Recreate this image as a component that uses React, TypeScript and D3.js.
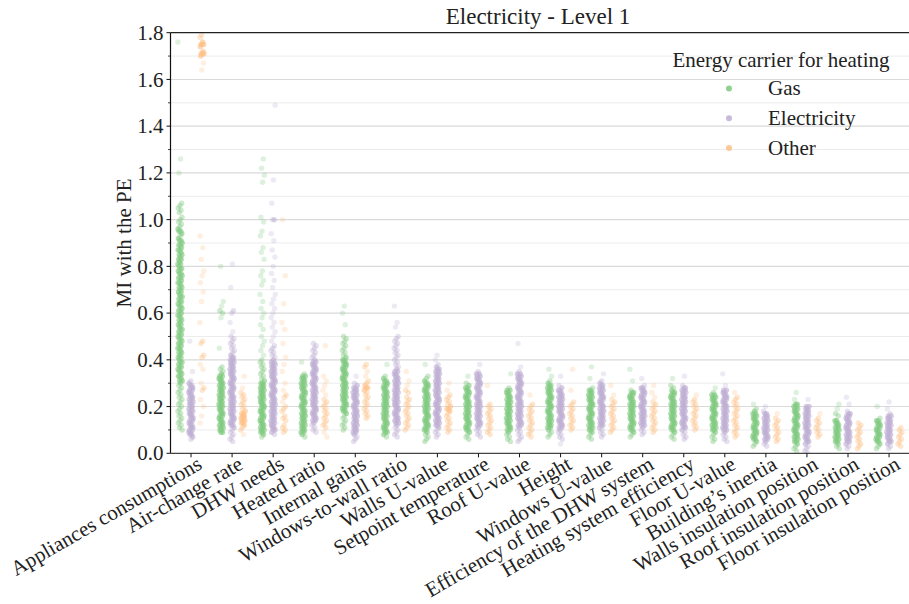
import React from "react";
import * as d3 from "d3";

const categories = [
  "Appliances consumptions", "Air-change rate", "DHW needs", "Heated ratio", "Internal gains",
  "Windows-to-wall ratio", "Walls U-value", "Setpoint temperature", "Roof U-value", "Height",
  "Windows U-value", "Efficiency of the DHW system", "Heating system efficiency", "Floor U-value",
  "Building\u2019s inertia", "Walls insulation position", "Roof insulation position", "Floor insulation position",
];
const hues = ["Gas", "Electricity", "Other"];
const hueColors = ["#7fc97f", "#beaed4", "#fdc086"];
const yTickValues = [0, 0.2, 0.4, 0.6, 0.8, 1.0, 1.2, 1.4, 1.6, 1.8];
const yMinorValues = [0.1, 0.3, 0.5, 0.7, 0.9, 1.1, 1.3, 1.5, 1.7];

// values in hundredths of MI, one string per category
const gasValues = [
  "176 126 120 107 106 105 104 103 101 100 99 98 97 96 95 95 94 93 92 91 91 90 89 89 88 87 87 86 85 85 84 83 83 82 81 81 80 79 79 78 77 77 76 75 75 74 73 73 72 71 71 70 69 69 68 67 67 66 65 65 64 63 63 62 61 61 60 59 59 58 57 57 56 55 55 54 53 53 52 51 51 50 49 49 48 47 47 46 45 45 44 43 43 42 41 41 40 39 39 38 37 37 36 35 35 34 33 33 32 31 31 30 29 28 27 26 25 24 23 22 21 20 19 18 17 16 15 14 13 12 11 10",
  "80 65 63 61 60 58 45 37 36 35 34 33 33 32 32 31 31 30 30 29 29 28 28 27 27 26 26 25 25 24 24 23 23 22 22 21 21 20 20 19 19 18 18 17 17 16 16 15 15 14 14 13 13 12 12 11 11 10 10 9 9",
  "126 122 119 116 101 99 95 93 88 86 83 78 76 74 72 68 65 62 60 58 55 53 50 48 46 44 42 40 39 38 37 36 35 34 33 32 31 30 30 29 29 28 28 27 27 26 26 25 25 24 24 23 23 22 22 21 21 20 20 19 19 18 18 17 17 16 16 15 15 14 14 13 13 12 12 11 11 10 10 9 9 8 7",
  "39 34 33 33 32 32 31 31 30 30 29 29 28 28 27 27 26 26 25 25 24 24 23 23 22 22 21 21 20 20 19 19 18 18 17 17 16 16 15 15 14 14 13 13 12 12 11 11 10 10 9 9 8 7",
  "63 60 55 50 49 48 47 46 45 44 43 42 41 40 40 39 39 38 38 37 37 36 36 35 35 34 34 33 33 32 32 31 31 30 30 29 29 28 28 27 27 26 26 25 25 24 24 23 23 22 22 21 21 20 20 19 19 18 18 17 16 15 14 13 12 11 10",
  "38 33 32 31 31 30 30 29 29 28 28 27 27 26 26 25 25 24 24 23 23 22 22 21 21 20 20 19 19 18 18 17 17 16 16 15 15 14 14 13 13 12 12 11 11 10 10 9 9 8 7",
  "38 33 32 31 30 30 29 29 28 28 27 27 26 26 25 25 24 24 23 23 22 22 21 21 20 20 19 19 18 18 17 17 16 16 15 15 14 14 13 13 12 12 11 11 10 10 9 8 7 6 5",
  "33 30 29 28 28 27 27 26 26 25 25 24 24 23 23 22 22 21 21 20 20 19 19 18 18 17 17 16 16 15 15 14 14 13 13 12 12 11 11 10 10 9 8 7 6",
  "34 28 27 27 26 26 25 25 24 24 23 23 22 22 21 21 20 20 19 19 18 18 17 17 16 16 15 15 14 14 13 13 12 12 11 11 10 10 9 8 7 6 5",
  "36 33 31 30 29 29 28 28 27 27 26 26 25 25 24 24 23 23 22 22 21 21 20 20 19 19 18 18 17 17 16 16 15 15 14 14 13 13 12 12 11 11 10 9 8 7",
  "37 32 28 27 27 26 26 25 25 24 24 23 23 22 22 21 21 20 20 19 19 18 18 17 17 16 16 15 15 14 14 13 13 12 12 11 11 10 10 9 8 7 6",
  "36 31 27 26 26 25 25 24 24 23 23 22 22 21 21 20 20 19 19 18 18 17 17 16 16 15 15 14 14 13 13 12 12 11 11 10 10 9 8 7",
  "32 29 28 27 26 26 25 25 24 24 23 23 22 22 21 21 20 20 19 19 18 18 17 17 16 16 15 15 14 14 13 13 12 12 11 11 10 10 9 8 7 6",
  "28 26 25 25 24 24 23 23 22 22 21 21 20 20 19 19 18 18 17 17 16 16 15 15 14 14 13 13 12 12 11 11 10 10 9 8 7 6 5",
  "21 19 18 17 17 16 16 15 15 14 14 13 13 12 12 11 11 10 10 9 9 8 8 7 7 6 6 5 4 3",
  "26 23 21 21 20 20 19 19 18 18 17 17 16 16 15 15 14 14 13 13 12 12 11 11 10 10 9 9 8 8 7 7 6 6 5 5 4 3 2 1",
  "21 19 17 16 14 14 13 13 12 12 11 11 10 10 9 9 8 8 7 7 6 6 5 5 4 3 2",
  "20 15 14 14 13 13 12 12 11 11 10 10 9 9 8 8 7 7 6 6 5 5 4 3 2",
];
const electricityValues = [
  "48 35 31 30 29 29 28 28 27 27 26 26 25 25 24 24 23 23 22 22 21 21 20 20 19 19 18 18 17 17 16 16 15 15 14 14 13 13 12 12 11 11 10 10 9 9 8 8 7 6",
  "81 71 61 60 56 52 50 49 48 47 46 45 44 43 42 41 41 40 40 39 39 38 38 37 37 36 36 35 35 34 34 33 33 32 32 31 31 30 30 29 29 28 28 27 27 26 26 25 25 24 24 23 23 22 22 21 21 20 20 19 19 18 18 17 17 16 16 15 15 14 14 13 13 12 12 11 10 9 8 7 6 5",
  "149 117 107 100 100 94 91 87 84 80 77 74 71 68 66 64 62 60 58 56 54 52 50 48 46 45 44 43 42 41 40 39 39 38 38 37 37 36 36 35 35 34 34 33 33 32 32 31 31 30 30 29 29 28 28 27 27 26 26 25 25 24 24 23 23 22 22 21 21 20 20 19 19 18 18 17 17 16 16 15 15 14 14 13 13 12 12 11 11 10 10 9 8",
  "47 46 45 44 43 42 41 40 39 39 38 38 37 37 36 36 35 35 34 34 33 33 32 32 31 31 30 30 29 29 28 28 27 27 26 26 25 25 24 24 23 23 22 22 21 21 20 20 19 19 18 18 17 17 16 16 15 15 14 14 13 12 11 10 9",
  "33 30 29 28 28 27 27 26 26 25 25 24 24 23 23 22 22 21 21 20 20 19 19 18 18 17 17 16 16 15 15 14 14 13 13 12 12 11 11 10 10 9 9 8 7 6 5",
  "63 56 54 50 49 48 47 46 45 44 43 42 41 40 39 38 37 36 35 35 34 34 33 33 32 32 31 31 30 30 29 29 28 28 27 27 26 26 25 25 24 24 23 23 22 22 21 21 20 20 19 19 18 18 17 17 16 16 15 15 14 14 13 13 12 11 10 9 8 7",
  "42 40 38 37 36 36 35 35 34 34 33 33 32 32 31 31 30 30 29 29 28 28 27 27 26 26 25 25 24 24 23 23 22 22 21 21 20 20 19 19 18 18 17 17 16 16 15 15 14 14 13 13 12 12 11 10 9 8 7",
  "38 35 34 34 33 33 32 32 31 31 30 30 29 29 28 28 27 27 26 26 25 25 24 24 23 23 22 22 21 21 20 20 19 19 18 18 17 17 16 16 15 15 14 14 13 13 12 12 11 10 9 8 7",
  "47 37 35 34 34 33 33 32 32 31 31 30 30 29 29 28 28 27 27 26 26 25 25 24 24 23 23 22 22 21 21 20 20 19 19 18 18 17 17 16 16 15 15 14 14 13 13 12 12 11 10 9 8 7 6 5",
  "33 29 28 27 27 26 26 25 25 24 24 23 23 22 22 21 21 20 20 19 19 18 18 17 17 16 16 15 15 14 14 13 13 12 12 11 11 10 9 8 7 6 4",
  "34 31 30 29 29 28 28 27 27 26 26 25 25 24 24 23 23 22 22 21 21 20 20 19 19 18 18 17 17 16 16 15 15 14 14 13 13 12 12 11 10 9 8 7",
  "32 29 28 28 27 27 26 26 25 25 24 24 23 23 22 22 21 21 20 20 19 19 18 18 17 17 16 16 15 15 14 14 13 13 12 12 11 10 9 8",
  "33 29 28 28 27 27 26 26 25 25 24 24 23 23 22 22 21 21 20 20 19 19 18 18 17 17 16 16 15 15 14 14 13 13 12 12 11 11 10 9 8 7 6",
  "34 29 27 27 26 26 25 25 24 24 23 23 22 22 21 21 20 20 19 19 18 18 17 17 16 16 15 15 14 14 13 13 12 12 11 11 10 10 9 8 7 6 5",
  "20 18 17 17 16 16 15 15 14 14 13 13 12 12 11 11 10 10 9 9 8 8 7 7 6 6 5 4 3",
  "23 20 20 19 19 18 18 17 17 16 16 15 15 14 14 13 13 12 12 11 11 10 10 9 9 8 8 7 7 6 6 5 5 4 3 2 1 0",
  "24 21 18 17 17 16 16 15 15 14 14 13 13 12 12 11 11 10 10 9 9 8 8 7 7 6 6 5 5 4 3 2",
  "22 19 17 16 16 15 15 14 14 13 13 12 12 11 11 10 10 9 9 8 8 7 7 6 6 5 5 4 3 2",
];
const otherValues = [
  "179 178 176 175 175 175 174 172 171 171 171 170 167 164 93 88 83 78 76 73 69 65 56 48 47 42 41 38 36 30 28 27 23 20 16 13",
  "33 28 26 25 24 23 22 21 20 19 18 17 17 16 16 15 15 14 14 13 13 12 11 10 8",
  "100 76 64 56 53 47 41 38 35 30 27 25 24 22 20 19 18 16 15 14 12 11 10 9",
  "46 33 31 29 27 25 23 22 21 20 19 18 17 16 15 14 13 12 11 9 7",
  "45 38 37 35 33 31 30 29 28 28 27 26 25 24 23 22 21 20 19 18 17 16 15",
  "35 31 29 27 26 24 23 22 21 20 19 18 17 16 15 14 13 12 11 10",
  "30 27 25 24 23 22 21 20 19 19 18 17 16 15 14 13 12 11 10 9",
  "29 21 20 19 18 17 16 15 14 13 12 11 10 9 8",
  "25 21 20 19 18 17 16 15 14 13 12 11 10 9 8 7",
  "36 27 22 21 20 19 18 17 16 15 14 13 12 11 10",
  "29 25 23 22 21 20 19 18 17 16 15 14 13 12 11 10 9",
  "29 26 24 22 21 20 19 18 17 16 15 14 13 12 11 10 9",
  "25 23 22 21 20 19 18 17 16 15 14 13 12 11 10",
  "26 24 23 22 21 20 19 18 17 16 15 14 13 12 11 10 9 8 7",
  "17 15 14 13 12 11 10 9 8 7 6 5",
  "17 15 14 13 12 11 10 9 8 7",
  "13 12 11 10 9 8 7 6 5 4 3 2",
  "11 10 9 8 7 6 5 4 3",
];

const parse = (s: string) => s.trim().split(/\s+/).map((v) => Number(v) / 100);
const series = [gasValues, electricityValues, otherValues].map((arr) => arr.map(parse));

const FONT = "Liberation Serif, DejaVu Serif, serif";
const FS = 21;

export default function App() {
  const W = 909;
  const H = 604;
  const left = 170.5;
  const right = 909.6;
  const top = 32.7;
  const bottom = 453.3;

  const x = d3.scaleBand<string>().domain(categories).range([left, right]).paddingInner(0).paddingOuter(0);
  const y = d3.scaleLinear().domain([0, 1.8]).range([bottom, top]);
  const bw = x.bandwidth();
  const dodge = (bw * 0.8) / 3;
  const jitter = 2.2;
  const r = 2.7;

  const points: { cx: number; cy: number; fill: string; key: string; op: number }[] = [];
  categories.forEach((c, ci) => {
    const center = (x(c) as number) + bw / 2;
    series.forEach((hueVals, hi) => {
      const vals = hueVals[ci];
      vals.forEach((v, i) => {
        const frac = ((i * 0.61803398875 + ci * 0.37 + hi * 0.21) % 1) - 0.5;
        const neighbours = vals.filter((w, j) => j !== i && Math.abs(w - v) <= 0.0151).length;
        const op = neighbours >= 3 ? 0.62 : neighbours >= 1 ? 0.4 : 0.26;
        points.push({
          cx: center + (hi - 1) * dodge + frac * 2 * jitter,
          cy: y(v),
          fill: hueColors[hi],
          key: `${ci}-${hi}-${i}`,
          op,
        });
      });
    });
  });

  return (
    <div style={{ position: "absolute", left: 0, top: 0 }}>
      <svg width={W} height={H} style={{ display: "block", background: "#fff" }}>
        <defs>
          <clipPath id="plotclip">
            <rect x={left} y={top} width={right - left} height={bottom - top} />
          </clipPath>
        </defs>
        {/* grid */}
        {yMinorValues.map((v) => (
          <line key={"mg" + v} x1={left} x2={right} y1={y(v)} y2={y(v)} stroke="#ececec" strokeWidth={1} />
        ))}
        {yTickValues.slice(1, -1).map((v) => (
          <line key={"g" + v} x1={left} x2={right} y1={y(v)} y2={y(v)} stroke="#dadada" strokeWidth={1.1} />
        ))}
        {/* points */}
        <g clipPath="url(#plotclip)">
          {points.map((p) => (
            <circle key={p.key} cx={p.cx} cy={p.cy} r={r} fill={p.fill} fillOpacity={p.op} />
          ))}
        </g>
        {/* spines */}
        <line x1={left} x2={right} y1={top} y2={top} stroke="#222" strokeWidth={1.2} />
        <line x1={left} x2={left} y1={top} y2={bottom} stroke="#111" strokeWidth={1.2} />
        <line x1={left} x2={right} y1={bottom} y2={bottom} stroke="#444" strokeWidth={1.3} />
        {/* y ticks */}
        {yTickValues.map((v) => (
          <g key={"yt" + v}>
            <line x1={left - 4} x2={left} y1={y(v)} y2={y(v)} stroke="#111" strokeWidth={1} />
            <text x={left - 7} y={y(v)} dy="0.34em" textAnchor="end" fontFamily={FONT} fontSize={FS} fill="#222">
              {v.toFixed(1)}
            </text>
          </g>
        ))}
        {yMinorValues.map((v) => (
          <line key={"ym" + v} x1={left - 2.5} x2={left} y1={y(v)} y2={y(v)} stroke="#111" strokeWidth={0.8} />
        ))}
        {/* x ticks */}
        {categories.map((c) => {
          const cx = (x(c) as number) + bw / 2;
          return (
            <g key={"xt" + c}>
              <line x1={cx} x2={cx} y1={bottom} y2={bottom + 4} stroke="#111" strokeWidth={1} />
              <text
                transform={`translate(${cx + 5},${bottom + 2}) rotate(-30)`}
                textAnchor="end"
                dy="0.7em"
                fontFamily={FONT}
                fontSize={FS}
                fill="#222"
              >
                {c}
              </text>
            </g>
          );
        })}
        {/* y label */}
        <text
          transform={`translate(131,${(top + bottom) / 2}) rotate(-90)`}
          textAnchor="middle"
          fontFamily={FONT}
          fontSize={FS}
          fill="#222"
        >
          MI with the PE
        </text>
        {/* title */}
        <text x={(left + right) / 2 - 2} y={24} textAnchor="middle" fontFamily={FONT} fontSize={23} fill="#222">
          Electricity - Level 1
        </text>
        {/* legend */}
        <text x={781} y={67} textAnchor="middle" fontFamily={FONT} fontSize={FS} fill="#222">
          Energy carrier for heating
        </text>
        {hues.map((h, i) => (
          <g key={"lg" + h}>
            <circle cx={729} cy={88.5 + i * 29.8} r={3} fill={hueColors[i]} fillOpacity={0.85} />
            <text x={768} y={88.5 + i * 29.8} dy="0.33em" fontFamily={FONT} fontSize={FS} fill="#222">
              {h}
            </text>
          </g>
        ))}
      </svg>
    </div>
  );
}
